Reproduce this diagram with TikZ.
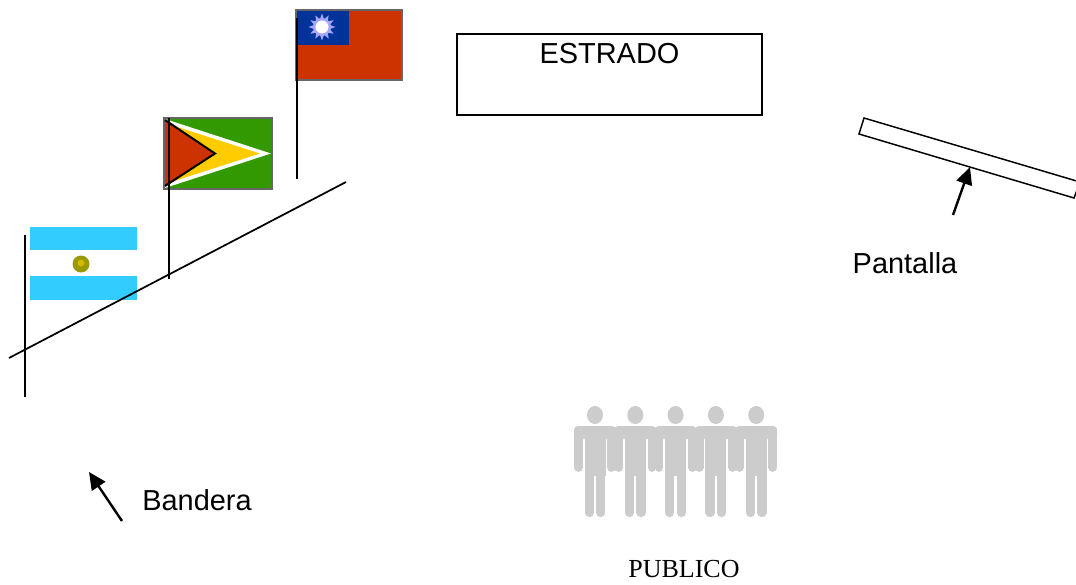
\documentclass[tikz,border=0pt]{standalone}
\usepackage{fontspec}
\setmainfont{Liberation Sans}
\newfontfamily\serifpub{Liberation Serif}
\usetikzlibrary{arrows.meta}
\definecolor{flagred}{HTML}{CC3300}
\definecolor{flagblue}{HTML}{003399}
\definecolor{flaggreen}{HTML}{339900}
\definecolor{flaggold}{HTML}{FFCC00}
\definecolor{flagsky}{HTML}{33CCFF}
\definecolor{flagrim}{HTML}{666666}
\definecolor{sunolive}{HTML}{999900}
\definecolor{crowd}{HTML}{CCCCCC}
\tikzset{
  pole/.style={line width=1.3pt},
  rim/.style={draw=flagrim,line width=1.5pt},
  label/.style={font=\fontsize{21.7}{26}\selectfont,inner sep=0pt},
  pointer/.style={line width=1.8pt,-{Triangle[length=13pt,width=12pt]}},
}
\begin{document}
\begin{tikzpicture}[x=0.75pt,y=-0.75pt]
\useasboundingbox (0,0) rectangle (1076,585);
%%%%% Flags %%%%%
\fill[flagsky] (30,227) rectangle (137,300);
\fill[white] (30,250) rectangle (137,276);
\fill[sunolive] (81,264) circle (8.5);
\fill[flaggold!60!sunolive] (81,263) circle (3.5);
\filldraw[rim,fill=flaggreen] (164,118) rectangle (272,189);
\fill[white] (165,119)--(271,153.5)--(165,188)--cycle;
\fill[flaggold] (165,123)--(260,153.5)--(165,184)--cycle;
\fill[flagred] (165,120)--(215,153.5)--(165,186)--cycle;
\draw[line width=1.5pt] (165,120)--(215,153.5)--(165,186);
\filldraw[rim,fill=flagred] (296,10) rectangle (402,80);
\fill[flagblue] (297,11) rectangle (349,45);
\foreach \i in {0,30,...,330}{
\fill[blue!35!white] ([shift={(\i-15:8)}]322,27)--([shift={(\i:13.5)}]322,27)--([shift={(\i+15:8)}]322,27)--cycle;
}
\fill[blue!35!white] (322,27) circle (9);
\fill[white] (322,27) circle (6.5);
%%%%% Poles and line %%%%%
\draw[pole] (25,235)--(25,397);
\draw[pole] (169,118)--(169,279);
\draw[pole] (297,18)--(297,179);
\draw[pole] (9,358)--(346,182);
%%%%% Estrado %%%%%
\draw[line width=1.1pt] (457,34) rectangle (762,115);
\node[label] (estrado) at (609.5,54) {ESTRADO};
%%%%% Pantalla %%%%%
\draw[line width=1.1pt] (864,118)--(1080,182)--(1074,198)--(859,134)--cycle;
\coordinate (screenfoot) at (953,215);
\coordinate (screenhit) at (970,167);
\draw[pointer] (screenfoot)--(screenhit);
\node[label] (pantalla) at (905,263) {Pantalla};
%%%%% Bandera %%%%%
\coordinate (flagfoot) at (122,521);
\coordinate (flaghit) at (89,472);
\draw[pointer] (flagfoot)--(flaghit);
\node[label] (bandera) at (197,500) {Bandera};
%%%%% Publico %%%%%
\foreach \i in {595,635.3,675.6,715.9,756.2}{
\begin{scope}[shift={(\i,0)}]
\fill[crowd] (0,415) ellipse (8 and 9);
\fill[crowd,rounded corners=3] (-21,426) rectangle (21,439);
\fill[crowd] (-10.5,430) rectangle (10.5,476);
\draw[crowd,line width=6.6pt,line cap=round] (-16.6,432)--(-16.6,467.5);
\draw[crowd,line width=6.6pt,line cap=round] (16.6,432)--(16.6,467.5);
\draw[crowd,line width=7pt,line cap=round] (-5.8,470)--(-5.8,512.5);
\draw[crowd,line width=7pt,line cap=round] (5.8,470)--(5.8,512.5);
\end{scope}
}
\node[inner sep=0pt,font=\serifpub\fontsize{19.5}{24}\selectfont] (publico) at (684,569) {PUBLICO};
\end{tikzpicture}
\end{document}
